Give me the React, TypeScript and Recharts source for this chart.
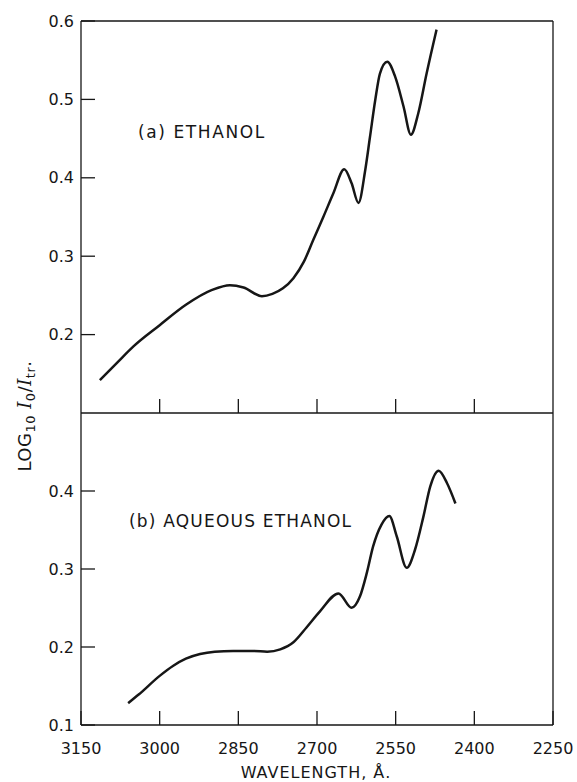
// UV absorption spectra: (a) ethanol, (b) aqueous ethanol
import { LineChart, Line, XAxis, YAxis } from "recharts";

const WAVE_DOMAIN = [2250, 3150];
const X_TICKS = [3150, 3000, 2850, 2700, 2550, 2400, 2250];
const X_TICKS_INNER = [3000, 2850, 2700, 2550, 2400];
const Y_TICKS_TOP = [0.2, 0.3, 0.4, 0.5, 0.6];
const Y_TICKS_BOTTOM = [0.1, 0.2, 0.3, 0.4];

// (a) ethanol
const ETHANOL_WL = [
  3114, 3080, 3050, 3000, 2950, 2900, 2866, 2840, 2805, 2785, 2765, 2745, 2725,
  2707, 2688, 2669, 2648, 2634, 2621, 2608, 2599, 2589, 2580, 2566, 2551, 2535,
  2521, 2507, 2491, 2472,
];
const ETHANOL_ABS = [
  0.142, 0.165, 0.185, 0.212, 0.238, 0.257, 0.263, 0.26, 0.249, 0.252, 0.259,
  0.272, 0.293, 0.321, 0.35, 0.38, 0.411, 0.393, 0.368, 0.41, 0.452, 0.499,
  0.533, 0.548, 0.529, 0.491, 0.455, 0.482, 0.533, 0.589,
];

// (b) aqueous ethanol
const AQUEOUS_WL = [
  3060, 3040, 3000, 2974, 2950, 2923, 2895, 2860, 2821, 2795, 2770, 2745, 2720,
  2694, 2659, 2634, 2618, 2605, 2593, 2577, 2562, 2548, 2529, 2513, 2497, 2484,
  2468, 2452, 2436,
];
const AQUEOUS_ABS = [
  0.128, 0.139, 0.163, 0.176, 0.185, 0.191, 0.194, 0.195, 0.195, 0.194, 0.197,
  0.206, 0.225, 0.246, 0.2687, 0.2504, 0.265, 0.295, 0.329, 0.357, 0.368, 0.342,
  0.3015, 0.325, 0.3675, 0.406, 0.426, 0.41, 0.384,
];

const ethanolData = ETHANOL_WL.map((w, i) => ({ w, v: ETHANOL_ABS[i] }));
const aqueousData = AQUEOUS_WL.map((w, i) => ({ w, v: AQUEOUS_ABS[i] }));

const INK = "#161616";
const FONT = "'DejaVu Sans', sans-serif";
const tickStyle = { fill: INK, fontSize: 16, fontFamily: FONT };
const fmt1 = (v: number) => v.toFixed(1);

export default function App() {
  return (
    <div style={{ position: "absolute", left: 0, top: 0, width: 577, height: 782, background: "#fff" }}>
      {/* 위 패널 */}
      <div style={{ position: "absolute", left: 0, top: 0 }}>
        <LineChart width={577} height={420} data={ethanolData} margin={{ top: 20, right: 23, bottom: 6, left: 0 }}>
          <XAxis
            dataKey="w"
            type="number"
            domain={WAVE_DOMAIN}
            reversed
            ticks={X_TICKS_INNER}
            tickFormatter={() => ""}
            tickSize={-14}
            height={1}
            stroke={INK}
            strokeWidth={1.3}
          />
          <XAxis xAxisId="t" orientation="top" type="number" domain={WAVE_DOMAIN} reversed tick={false} tickLine={false} height={1} stroke={INK} strokeWidth={1.3} />
          <YAxis
            type="number"
            domain={[0.1, 0.6]}
            ticks={Y_TICKS_TOP}
            tickFormatter={fmt1}
            tickSize={-14}
            tickMargin={21}
            width={81}
            tick={tickStyle}
            stroke={INK}
            strokeWidth={1.3}
          />
          <YAxis yAxisId="r" orientation="right" width={1} tick={false} tickLine={false} stroke={INK} strokeWidth={1.3} />
          <Line dataKey="v" type="monotone" stroke={INK} strokeWidth={2.5} dot={false} isAnimationActive={false} />
        </LineChart>
      </div>

      {/* 아래 패널 */}
      <div style={{ position: "absolute", left: 0, top: 0 }}>
        <LineChart width={577} height={782} data={aqueousData} margin={{ top: 413, right: 23, bottom: 27, left: 0 }}>
          <XAxis
            dataKey="w"
            type="number"
            domain={WAVE_DOMAIN}
            reversed
            ticks={X_TICKS}
            tickSize={-14}
            tickMargin={32}
            height={30}
            tick={tickStyle}
            stroke={INK}
            strokeWidth={1.3}
          />
          <YAxis
            type="number"
            domain={[0.1, 0.5]}
            ticks={Y_TICKS_BOTTOM}
            tickFormatter={fmt1}
            tickSize={-14}
            tickMargin={21}
            width={81}
            tick={tickStyle}
            stroke={INK}
            strokeWidth={1.3}
          />
          <YAxis yAxisId="r" orientation="right" width={1} tick={false} tickLine={false} stroke={INK} strokeWidth={1.3} />
          <Line dataKey="v" type="monotone" stroke={INK} strokeWidth={2.5} dot={false} isAnimationActive={false} />
        </LineChart>
      </div>

      {/* 라벨 */}
      <svg width={577} height={782} style={{ position: "absolute", left: 0, top: 0, pointerEvents: "none" }}>
        <g fill={INK} fontFamily={FONT}>
          <text x={138} y={138} fontSize={17} letterSpacing={1.6}>(a) ETHANOL</text>
          <text x={129} y={527} fontSize={17} letterSpacing={1.2}>(b) AQUEOUS ETHANOL</text>
          <text x={316} y={778} fontSize={16} letterSpacing={1} textAnchor="middle">WAVELENGTH, Å.</text>
          <text transform="translate(31,416) rotate(-90)" fontSize={18} letterSpacing={0.5} textAnchor="middle">
            LOG<tspan fontSize={13} dy={4}>10</tspan>
            <tspan dy={-4}> </tspan>
            <tspan fontFamily="'DejaVu Serif', serif" fontStyle="italic">I</tspan>
            <tspan fontSize={13} dy={4}>0</tspan>
            <tspan dy={-4}>/</tspan>
            <tspan fontFamily="'DejaVu Serif', serif" fontStyle="italic">I</tspan>
            <tspan fontSize={13} dy={4}>tr</tspan>
            <tspan dy={-4}>.</tspan>
          </text>
        </g>
      </svg>
    </div>
  );
}
